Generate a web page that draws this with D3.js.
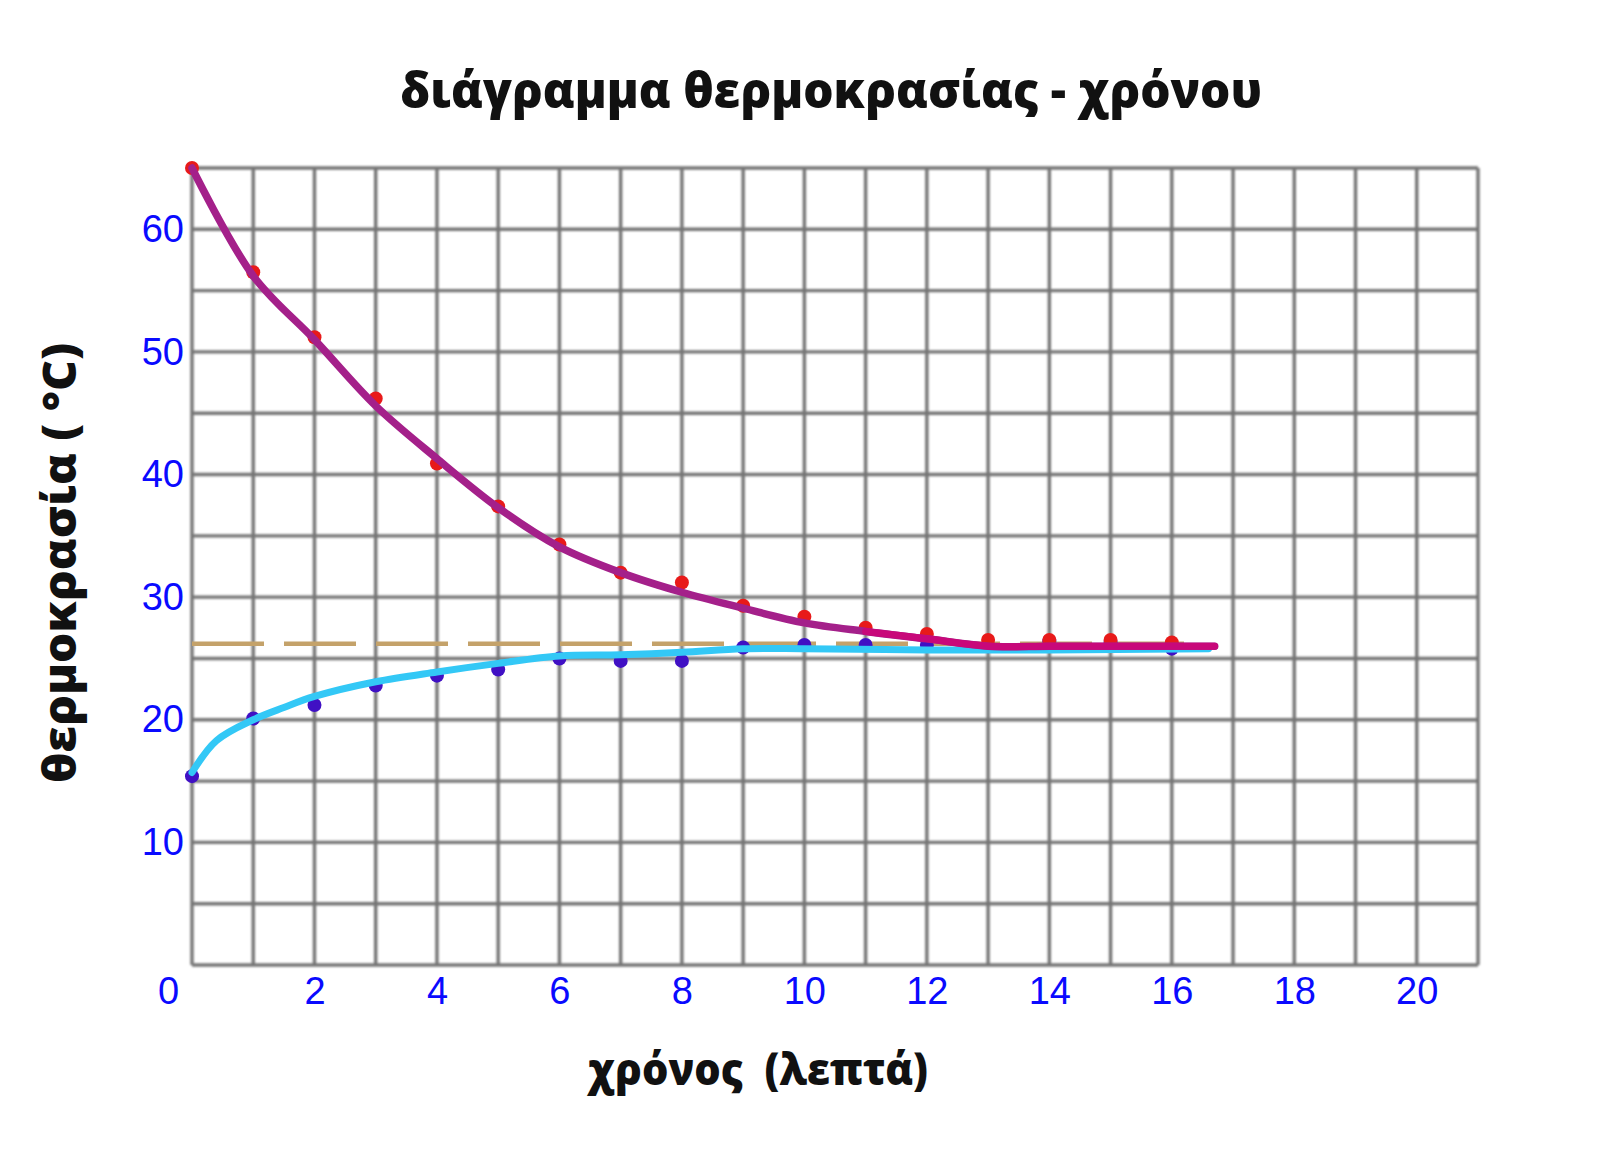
<!DOCTYPE html>
<html><head><meta charset="utf-8">
<script src="https://cdn.jsdelivr.net/npm/d3@7"></script>
<style>html,body{margin:0;padding:0;background:#fff;}</style>
</head><body>
<svg id="chart" width="1606" height="1149"></svg>
<script>
// ---- data ----
const title = "διάγραμμα θερμοκρασίας - χρόνου";
const xLabel = "χρόνος  (λεπτά)";
const yLabel = "θερμοκρασία ( °C)";
const xTicks = [0, 2, 4, 6, 8, 10, 12, 14, 16, 18, 20];
const yTicks = [10, 20, 30, 40, 50, 60];
const times = [0, 1, 2, 3, 4, 5, 6, 7, 8, 9, 10, 11, 12, 13, 14, 15, 16];
const hotPoints = [65, 56.5, 51.2, 46.2, 40.9, 37.4, 34.3, 32.0, 31.2, 29.3, 28.4, 27.5, 27.0, 26.5, 26.5, 26.5, 26.3];
const coldPoints = [15.4, 20.1, 21.2, 22.8, 23.6, 24.1, 25.0, 24.8, 24.8, 25.9, 26.1, 26.1, 26.1, 26.0, 26.4, 26.3, 25.8];
const hotCurveT = [0, 1, 2, 3, 4, 5, 6, 7, 8, 9, 10, 11, 12, 13, 14, 15, 16, 16.7];
const hotCurveV = [65, 56.2, 51.0, 45.6, 41.3, 37.3, 34.1, 32.0, 30.4, 29.1, 27.9, 27.2, 26.6, 26.0, 26.0, 26.0, 26.0, 26.0];
const coldCurveT = [0, 0.4, 1, 1.5, 2, 3, 4, 5, 6, 7, 8, 9, 10, 12, 14, 16.6];
const coldCurveV = [15.7, 18.3, 20.0, 21.0, 21.9, 23.1, 23.9, 24.6, 25.2, 25.3, 25.5, 25.8, 25.8, 25.7, 25.7, 25.8];
const equilibrium = 26.2;
const equilibriumRange = [0, 16.5];

// ---- layout ----
const svg = d3.select("#chart");
const x = d3.scaleLinear().domain([0, 21]).range([192, 1478]);
const y = d3.scaleLinear().domain([0, 65]).range([965, 168]);

const defs = svg.append("defs");
defs.append("filter").attr("id", "soft").append("feGaussianBlur").attr("stdDeviation", 1.0);

// grid
const grid = svg.append("g").attr("filter", "url(#soft)");
grid.selectAll("line.v").data(d3.range(0, 22)).join("line")
  .attr("x1", d => x(d)).attr("x2", d => x(d))
  .attr("y1", y(65)).attr("y2", y(0))
  .attr("stroke", "#747474").attr("stroke-width", 3.4);
grid.selectAll("line.h").data(d3.range(0, 66, 5)).join("line")
  .attr("y1", d => y(d)).attr("y2", d => y(d))
  .attr("x1", x(0)).attr("x2", x(21))
  .attr("stroke", "#747474").attr("stroke-width", 3.4);

// axes tick labels
const xAxis = svg.append("g").attr("transform", `translate(0,${y(0)})`)
  .call(d3.axisBottom(x).tickValues(xTicks).tickSize(0).tickPadding(12).tickFormat(d3.format("d")));
xAxis.select(".domain").remove();
xAxis.selectAll("text").attr("font-family", "'Liberation Sans', Arial, sans-serif")
  .attr("font-size", 38).attr("fill", "#0a0aff")
  .attr("dx", d => d === 0 ? -24 : 0);

const yAxis = svg.append("g").attr("transform", `translate(${x(0)},0)`)
  .call(d3.axisLeft(y).tickValues(yTicks).tickSize(0).tickPadding(8).tickFormat(d3.format("d")));
yAxis.select(".domain").remove();
yAxis.selectAll("text").attr("font-family", "'Liberation Sans', Arial, sans-serif")
  .attr("font-size", 38).attr("fill", "#0a0aff");

// equilibrium dashed line
svg.append("line")
  .attr("x1", x(equilibriumRange[0])).attr("x2", x(equilibriumRange[1]))
  .attr("y1", y(equilibrium)).attr("y2", y(equilibrium))
  .attr("stroke", "#c4a26a").attr("stroke-width", 4.5)
  .attr("stroke-dasharray", "72,20");

// cold points
svg.append("g").selectAll("circle").data(times.map((t, i) => [t, coldPoints[i]])).join("circle")
  .attr("cx", d => x(d[0])).attr("cy", d => y(d[1])).attr("r", 7).attr("fill", "#4010c4");

const line = d3.line().x(d => x(d[0])).y(d => y(d[1])).curve(d3.curveCatmullRom.alpha(0.5));

// cold curve
svg.append("path").datum(coldCurveT.map((t, i) => [t, coldCurveV[i]]))
  .attr("d", line).attr("fill", "none").attr("stroke", "#33c8f6")
  .attr("stroke-width", 7).attr("stroke-linecap", "round");

// hot points
svg.append("g").selectAll("circle").data(times.map((t, i) => [t, hotPoints[i]])).join("circle")
  .attr("cx", d => x(d[0])).attr("cy", d => y(d[1])).attr("r", 7).attr("fill", "#e81a1a");

// hot curve
const hotData = hotCurveT.map((t, i) => [t, hotCurveV[i]]);
svg.append("path").datum(hotData)
  .attr("d", line).attr("fill", "none").attr("stroke", "#a4208a")
  .attr("stroke-width", 7.5).attr("stroke-linecap", "round").attr("stroke-linejoin", "round");
svg.append("path").datum(hotData.filter(d => d[0] >= 11))
  .attr("d", line).attr("fill", "none").attr("stroke", "#c8087a")
  .attr("stroke-width", 7).attr("stroke-linecap", "round").attr("stroke-linejoin", "round");

// titles
svg.append("text").attr("x", 831).attr("y", 108).attr("text-anchor", "middle")
  .attr("font-family", "'Open Sans', 'Noto Sans', sans-serif").attr("font-weight", "800")
  .attr("font-size", 50).attr("textLength", 862).attr("lengthAdjust", "spacingAndGlyphs")
  .attr("fill", "#111").text(title);

svg.append("text").attr("transform", "translate(76,563) rotate(-90)").attr("text-anchor", "middle")
  .attr("font-family", "'Open Sans', 'Noto Sans', sans-serif").attr("font-weight", "800")
  .attr("font-size", 46).attr("textLength", 440).attr("lengthAdjust", "spacingAndGlyphs")
  .style("white-space", "pre")
  .attr("fill", "#111").text(yLabel);

svg.append("text").attr("x", 758).attr("y", 1085).attr("text-anchor", "middle")
  .attr("font-family", "'Open Sans', 'Noto Sans', sans-serif").attr("font-weight", "800")
  .attr("font-size", 44).attr("textLength", 340).attr("lengthAdjust", "spacingAndGlyphs")
  .style("white-space", "pre")
  .attr("fill", "#111").text(xLabel);
</script>
</body></html>
